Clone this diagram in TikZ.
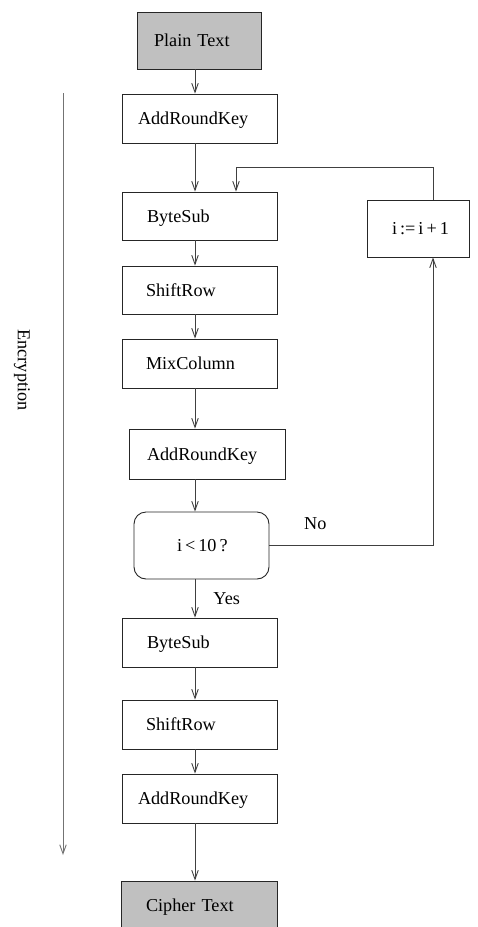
\documentclass[tikz,border=0pt]{standalone}
\usepackage{fontspec}
\setmainfont{Liberation Serif}
\usetikzlibrary{arrows.meta,calc}
\begin{document}
\begin{tikzpicture}[x=1pt,y=-1pt,
  every node/.style={font=\fontsize{18.2}{22}\selectfont},
  box/.style={draw=black!85, line width=0.9pt, inner ysep=0pt, align=left,
    text height=12pt, text depth=-7pt},
  shaded/.style={box, fill={rgb,255:red,192;green,192;blue,192}},
  arr/.style={draw=black!75, line width=0.9pt, -{Straight Barb[length=9pt,width=6.5pt]}},
  lbl/.style={inner sep=0pt}
]
\useasboundingbox (0,0) rectangle (478,927);
% column coordinates
\coordinate (cx) at (195,0);
\coordinate (lx) at (433,0);
\coordinate (ly) at (0,167);
\coordinate (bx) at (236,0);
% boxes
\node[shaded, minimum width=124pt, minimum height=57pt, inner xsep=17pt, text width=90pt, text height=12pt, text depth=-12pt] (plain) at (199,40.5) {Plain Text};
\node[box, minimum width=155pt, minimum height=49pt, inner xsep=16pt, text width=123pt] (ark1) at (199.5,118.5) {AddRoundKey};
\node[box, minimum width=155pt, minimum height=48pt, inner xsep=25pt, text width=105pt, text depth=-11pt] (bs1) at (199.5,216) {ByteSub};
\node[box, minimum width=155pt, minimum height=48pt, inner xsep=24pt, text width=107pt] (sr1) at (199.5,290) {ShiftRow};
\node[box, minimum width=155pt, minimum height=49pt, inner xsep=24pt, text width=107pt] (mc) at (199.5,363.5) {MixColumn};
\node[box, minimum width=156pt, minimum height=50pt, inner xsep=18pt, text width=120pt] (ark2) at (207,454) {AddRoundKey};
\node[box, rounded corners=12pt, minimum width=135pt, minimum height=67pt, inner xsep=43pt, text width=49pt] (dec) at (201.5,545.5) {i\,<\,10\,?};
\node[box, minimum width=102pt, minimum height=57pt, inner xsep=25pt, text width=52pt] (inc) at (418,228.5) {i\,:=\,i\,+\,1};
\node[box, minimum width=155pt, minimum height=49pt, inner xsep=25pt, text width=105pt] (bs2) at (199.5,642.5) {ByteSub};
\node[box, minimum width=155pt, minimum height=49pt, inner xsep=24pt, text width=107pt, text depth=-6pt] (sr2) at (199.5,724.5) {ShiftRow};
\node[box, minimum width=155pt, minimum height=49pt, inner xsep=16pt, text width=123pt] (ark3) at (199.5,798.5) {AddRoundKey};
\node[shaded, minimum width=156pt, minimum height=49pt, inner xsep=25pt, text width=106pt, text depth=-3pt] (cipher) at (199,905.5) {Cipher Text};
% main flow
\draw[arr] (plain.south -| cx) -- (ark1.north -| cx);
\draw[arr] (ark1.south -| cx) -- (bs1.north -| cx);
\draw[arr] (bs1.south -| cx) -- (sr1.north -| cx);
\draw[arr] (sr1.south -| cx) -- (mc.north -| cx);
\draw[arr] (mc.south -| cx) -- (ark2.north -| cx);
\draw[arr] (ark2.south -| cx) -- (dec.north -| cx);
\draw[arr] (dec.south -| cx) -- node[lbl, midway, anchor=west, xshift=18pt] {Yes} (bs2.north -| cx);
\draw[arr] (bs2.south -| cx) -- (sr2.north -| cx);
\draw[arr] (sr2.south -| cx) -- (ark3.north -| cx);
\draw[arr] (ark3.south -| cx) -- (cipher.north -| cx);
% loop
\draw[arr] (dec.east) -- node[lbl, pos=0.28, anchor=base, yshift=16pt] {No} (lx |- dec.east) -- (inc.south -| lx);
\draw[arr] (inc.north -| lx) -- (lx |- ly) -- (bx |- ly) -- (bs1.north -| bx);
% encryption arrow
\coordinate (encS) at (63,93);
\coordinate (encE) at (63,855);
\draw[arr, draw=black!55] (encS) -- (encE);
\node[lbl, rotate=-90] (enc) at (22,370) {Encryption};
\end{tikzpicture}
\end{document}
